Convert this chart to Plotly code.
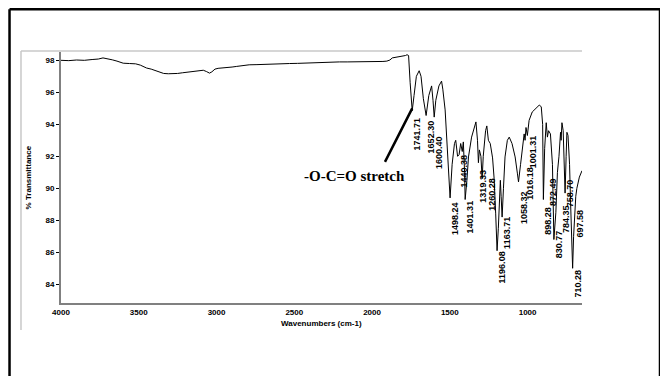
import plotly.graph_objects as go

# ---- data ----
wavenumber = [4000, 3950, 3900, 3850, 3800, 3760, 3730, 3700, 3670, 3640, 3600, 3560, 3520, 3490,
              3450, 3420, 3390, 3370, 3340, 3310, 3280, 3250, 3220, 3190, 3160, 3130, 3100, 3085,
              3065, 3045, 3030, 3010, 2990, 2950, 2920, 2900, 2870, 2850, 2820, 2790, 2740, 2700,
              2650, 2600, 2560, 2530, 2480, 2440, 2400, 2350, 2300, 2250, 2210, 2160, 2100, 2050,
              2000, 1960, 1930, 1905, 1885, 1870, 1850, 1830, 1800, 1785, 1775, 1765, 1755, 1741.71,
              1730, 1715, 1697, 1685, 1670, 1652.3, 1635, 1617, 1608, 1600.4, 1590, 1570, 1553, 1545,
              1530, 1520, 1510, 1498.24, 1485, 1470, 1462, 1450, 1440.38, 1430, 1420, 1413, 1405,
              1401.31, 1390, 1380, 1360, 1340, 1332, 1322, 1316, 1310, 1300, 1292, 1285, 1270, 1262,
              1252, 1240, 1225, 1215, 1205, 1196.08, 1188, 1180, 1175, 1170, 1163.71, 1155, 1145, 1130,
              1118, 1100, 1080, 1065, 1058.32, 1045, 1032, 1022, 1016.18, 1010, 1001.31, 990, 970, 950,
              925, 912, 903, 898.28, 890, 880, 872.49, 865, 853, 840, 830.77, 818, 808, 798, 788, 784.35,
              779, 771, 758.7, 752, 747, 740, 730, 724, 717, 710.28, 704, 697.58, 690, 683, 667, 650]
transmittance = [98.0, 97.98, 98.02, 98.0, 98.05, 98.08, 98.15, 98.1, 98.03, 97.95, 97.82, 97.8, 97.78, 97.7,
                 97.52, 97.45, 97.35, 97.25, 97.18, 97.16, 97.15, 97.18, 97.22, 97.26, 97.3, 97.33, 97.36, 97.38,
                 97.3, 97.2, 97.28, 97.45, 97.5, 97.52, 97.56, 97.58, 97.62, 97.65, 97.68, 97.72, 97.73, 97.75,
                 97.77, 97.78, 97.8, 97.8, 97.81, 97.83, 97.83, 97.85, 97.86, 97.88, 97.9, 97.9, 97.9, 97.91,
                 97.92, 97.93, 97.93, 97.95, 98.02, 98.15, 98.18, 98.2, 98.25, 98.3, 98.35, 98.3, 96.6, 94.85,
                 95.8, 97.0, 97.35, 97.0, 95.6, 94.55, 95.8, 96.4, 95.5, 94.45, 95.5, 96.4, 96.7, 96.2,
                 94.9, 93.0, 91.0, 89.4, 91.5, 92.8, 93.0, 92.0, 92.1, 92.8, 92.3, 92.9, 91.0,
                 89.3, 90.5, 91.96, 93.2, 94.0, 94.15, 93.0, 91.6, 92.4, 92.0, 90.6, 92.0, 93.6, 93.9,
                 93.0, 92.8, 91.9, 90.6, 88.4, 86.1, 87.5, 89.3, 90.5, 89.5, 88.2, 90.0, 91.96, 93.0,
                 93.2, 92.8, 91.96, 90.9, 90.4, 91.5, 92.4, 93.4, 93.0, 93.8, 93.3, 94.25, 94.77, 94.98,
                 95.2, 95.1, 94.0, 89.3, 92.5, 94.1, 93.2, 93.6, 93.4, 91.5, 86.8, 88.5, 91.0, 92.0, 93.5, 93.0,
                 94.1, 93.6, 89.7, 92.0, 93.5, 93.3, 91.5, 89.3, 87.5, 85.0, 87.0, 88.5, 89.5, 90.0, 90.7, 91.1]

peak_labels = ["1741.71", "1652.30", "1600.40", "1498.24", "1440.38", "1401.31", "1319.33",
               "1260.28", "1196.08", "1163.71", "1058.32", "1016.18", "1001.31", "898.28",
               "872.49", "830.77", "784.35", "758.70", "710.28", "697.58"]
peak_wn = [1741.71, 1652.30, 1600.40, 1498.24, 1440.38, 1401.31, 1319.33,
           1260.28, 1196.08, 1163.71, 1058.32, 1016.18, 1001.31, 898.28,
           872.49, 830.77, 784.35, 758.70, 710.28, 697.58]
peak_label_T = [93.38, 93.19, 92.22, 88.09, 91.06, 88.19, 90.16,
                89.6, 85.06, 87.22, 88.8, 90.28, 92.28, 88.0,
                89.8, 86.5, 88.09, 89.7, 84.03, 87.78]

x_ticks = [4000, 3500, 3000, 2500, 2000, 1500, 1000]
y_ticks = [84, 86, 88, 90, 92, 94, 96, 98]

fig = go.Figure()
fig.add_trace(go.Scatter(x=wavenumber, y=transmittance, mode="lines",
                         line=dict(color="black", width=1), hoverinfo="skip",
                         showlegend=False))

tick_font = dict(family="Liberation Sans", size=8, color="black", weight="bold")

annotations = []
for txt, wn, t in zip(peak_labels, peak_wn, peak_label_T):
    annotations.append(dict(x=wn, y=t, xref="x", yref="y", text=txt, showarrow=False,
                            textangle=-90, xshift=5, xanchor="center", yanchor="middle",
                            font=dict(family="Liberation Sans", size=9, color="black", weight="bold")))

# arrow to carbonyl band
annotations.append(dict(x=1741.71, y=95.0, xref="x", yref="y", text="", showarrow=True,
                        arrowhead=0, arrowwidth=2.5, arrowcolor="black", ax=-28, ay=55,
                        axref="pixel", ayref="pixel"))
annotations.append(dict(x=0.563, y=0.505, xref="paper", yref="paper", text="-O-C=O stretch",
                        showarrow=False, xanchor="center", yanchor="middle",
                        font=dict(family="Liberation Serif", size=15, color="black", weight="bold")))
# axis titles
annotations.append(dict(x=0.5, y=-0.08, xref="paper", yref="paper", text="Wavenumbers (cm-1)",
                        showarrow=False, xanchor="center", yanchor="middle",
                        font=dict(family="Liberation Sans", size=8, color="black", weight="bold")))
annotations.append(dict(x=-0.0615, y=0.5, xref="paper", yref="paper", text="% Transmittance",
                        showarrow=False, textangle=-90, xanchor="center", yanchor="middle",
                        font=dict(family="Liberation Sans", size=8, color="black", weight="bold")))

shapes = [
    # light grey chart frame (top and left)
    dict(type="line", xref="paper", yref="paper", x0=-0.0768, y0=1.004, x1=1.0, y1=1.004,
         line=dict(color="#c8c8c8", width=1.5)),
    dict(type="line", xref="paper", yref="paper", x0=-0.0768, y0=1.004, x1=-0.0768, y1=-0.1076,
         line=dict(color="#c8c8c8", width=1.5)),
    # outer black border
    dict(type="line", xref="paper", yref="paper", x0=-0.0988, y0=1.1705, x1=1.1497, y1=1.1705,
         line=dict(color="black", width=2.5)),
    dict(type="line", xref="paper", yref="paper", x0=-0.0988, y0=1.1705, x1=-0.0988, y1=-0.35,
         line=dict(color="black", width=2.5)),
    dict(type="line", xref="paper", yref="paper", x0=1.1497, y0=1.1705, x1=1.1497, y1=-0.35,
         line=dict(color="black", width=2.5)),
]

# page body has an 8px default margin, so the figure is sized/offset to compensate
fig.update_layout(
    width=660, height=368, autosize=False,
    margin=dict(l=53, r=86, t=44, b=73, pad=0),
    paper_bgcolor="white", plot_bgcolor="white",
    xaxis=dict(range=[4000, 650], tickvals=x_ticks, ticktext=[str(v) for v in x_ticks],
               showgrid=False, zeroline=False, showline=True, linecolor="#808080", linewidth=2,
               ticks="", tickfont=tick_font, fixedrange=True),
    yaxis=dict(range=[82.83, 98.52], tickvals=y_ticks, ticktext=[str(v) for v in y_ticks],
               showgrid=False, zeroline=False, showline=True, linecolor="#808080", linewidth=2,
               ticks="outside", ticklen=3, tickwidth=1, tickcolor="black", tickfont=tick_font,
               fixedrange=True),
    annotations=annotations, shapes=shapes, showlegend=False,
)

fig.write_html("out.html")
